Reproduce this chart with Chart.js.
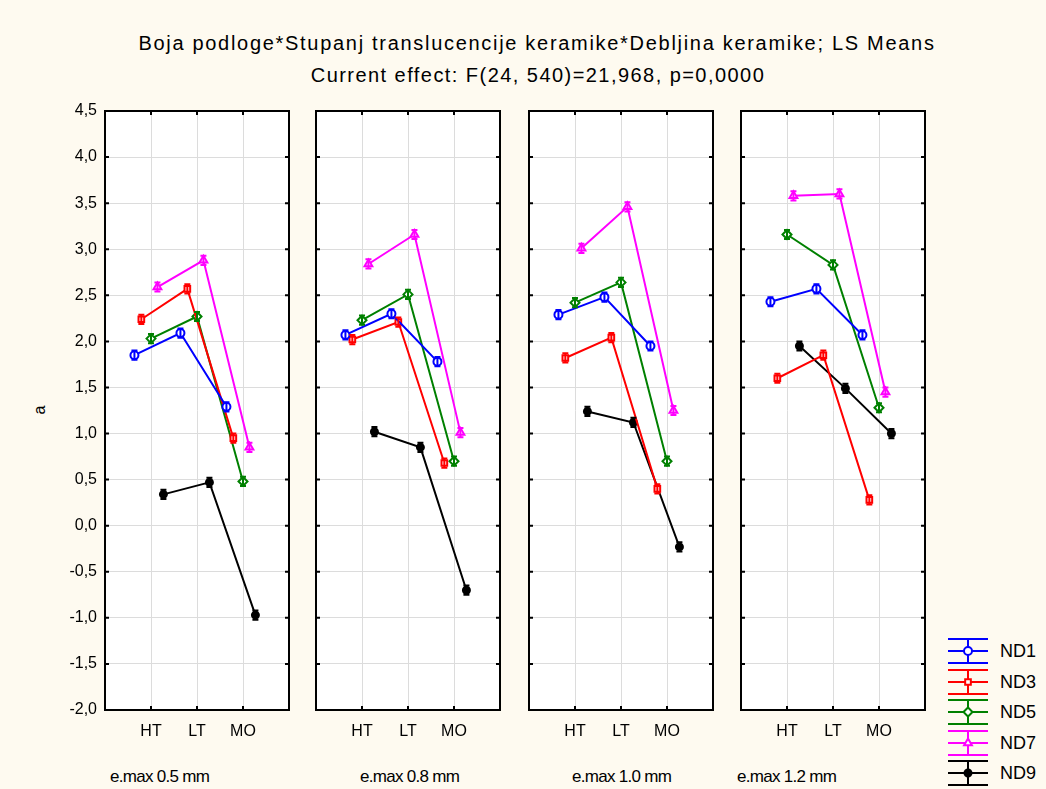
<!DOCTYPE html>
<html><head><meta charset="utf-8">
<script src="https://cdn.jsdelivr.net/npm/chart.js@4"></script>
<style>
html,body{margin:0;padding:0;background:#fefaf0;width:1046px;height:789px;overflow:hidden;font-family:"Liberation Sans",Arial,sans-serif;color:#000}
.abs{position:absolute;white-space:nowrap;line-height:20px}
canvas{position:absolute}
</style></head><body>
<div class="abs" id="title1" style="left:537px;top:33px;font-size:20px;letter-spacing:1.7px;transform:translateX(-50%)">Boja podloge*Stupanj translucencije keramike*Debljina keramike; LS Means</div>
<div class="abs" id="title2" style="left:538px;top:65px;font-size:20px;letter-spacing:1.45px;transform:translateX(-50%)">Current effect: F(24, 540)=21,968, p=0,0000</div>
<div class="abs" style="left:40px;top:410px;font-size:16px;transform:translate(-50%,-50%) rotate(-90deg)">a</div>
<div id="panelLabels"></div>
<div id="legend"></div>
<script>
// ---------- data ----------
const CATEGORIES = ['HT', 'LT', 'MO'];
const PANELS = ['e.max 0.5 mm', 'e.max 0.8 mm', 'e.max 1.0 mm', 'e.max 1.2 mm'];
const SERIES = ['ND1', 'ND3', 'ND5', 'ND7', 'ND9'];
// values per panel: [HT, LT, MO]
const ND1 = [[1.85, 2.09, 1.29], [2.07, 2.30, 1.78], [2.29, 2.48, 1.95], [2.43, 2.57, 2.07]];
const ND3 = [[2.24, 2.57, 0.95], [2.02, 2.21, 0.68], [1.82, 2.04, 0.40], [1.60, 1.85, 0.28]];
const ND5 = [[2.03, 2.27, 0.48], [2.23, 2.51, 0.70], [2.42, 2.64, 0.70], [3.16, 2.83, 1.28]];
const ND7 = [[2.59, 2.88, 0.85], [2.84, 3.16, 1.01], [3.01, 3.46, 1.25], [3.58, 3.60, 1.45]];
const ND9 = [[0.34, 0.47, -0.97], [1.02, 0.85, -0.70], [1.24, 1.12, -0.23], [1.95, 1.49, 1.00]];
// standard error (half-length of error bar) per series
const SE = [0.05, 0.05, 0.05, 0.05, 0.05];
const Y_TICKS = [4.5, 4.0, 3.5, 3.0, 2.5, 2.0, 1.5, 1.0, 0.5, 0.0, -0.5, -1.0, -1.5, -2.0];

// ---------- styles ----------
const VALUES = [ND1, ND3, ND5, ND7, ND9];
const COLORS = ['#0000ff', '#ff0000', '#008000', '#ff00ff', '#000000'];
const POINT_STYLES = ['circle', 'rect', 'rectRot', 'triangle', 'circle'];
const POINT_RADII = [4, 4, 4.5, 4.5, 3.5];
const POINT_FILL = ['#ffffff', '#ffffff', '#ffffff', '#ffffff', '#000000'];
const X_OFFSETS = [-0.36, -0.21, 0, 0.14, 0.27];
const FONT = '"Liberation Sans", Arial, sans-serif';
Chart.defaults.font.family = FONT;

const PANEL_LEFT = [105, 316, 529, 741];
const PANEL_W = 184;
const CANVAS_TOP = 100, PAD_TOP = 11, PLOT_H = 599, X_AXIS_H = 40;
const fmt = v => v.toFixed(1).replace('.', ',');

const framePlugin = {
  id: 'frame',
  beforeDraw(chart) {
    const ctx = chart.ctx, a = chart.chartArea;
    ctx.save();
    ctx.fillStyle = '#ffffff';
    ctx.fillRect(a.left, a.top, a.right - a.left, a.bottom - a.top);
    ctx.restore();
  },
  afterDatasetsDraw(chart) {
    const ctx = chart.ctx;
    const y = chart.scales.y;
    chart.data.datasets.forEach((ds, di) => {
      const meta = chart.getDatasetMeta(di);
      const e = ds.se;
      ctx.save();
      ctx.strokeStyle = ds.borderColor;
      ctx.lineWidth = 2;
      meta.data.forEach((pt, j) => {
        const v = ds.data[j].y;
        const y1 = y.getPixelForValue(v + e), y2 = y.getPixelForValue(v - e);
        ctx.beginPath();
        ctx.moveTo(pt.x, y1); ctx.lineTo(pt.x, y2);
        ctx.moveTo(pt.x - 3, y1); ctx.lineTo(pt.x + 3, y1);
        ctx.moveTo(pt.x - 3, y2); ctx.lineTo(pt.x + 3, y2);
        ctx.stroke();
      });
      ctx.restore();
    });
  },
  afterDraw(chart) {
    const ctx = chart.ctx, a = chart.chartArea;
    ctx.save();
    ctx.strokeStyle = '#000';
    ctx.lineWidth = 2;
    ctx.strokeRect(a.left, a.top, a.right - a.left, a.bottom - a.top);
    ctx.beginPath();
    chart.scales.y.ticks.forEach(t => {
      const p = chart.scales.y.getPixelForValue(t.value);
      ctx.moveTo(a.left, p); ctx.lineTo(a.left + 4, p);
      ctx.moveTo(a.right, p); ctx.lineTo(a.right - 4, p);
    });
    chart.scales.x.ticks.forEach(t => {
      const p = chart.scales.x.getPixelForValue(t.value);
      ctx.moveTo(p, a.top); ctx.lineTo(p, a.top + 4);
      ctx.moveTo(p, a.bottom); ctx.lineTo(p, a.bottom - 4);
    });
    ctx.stroke();
    ctx.restore();
  }
};

PANELS.forEach((label, pi) => {
  const yW = pi === 0 ? 105 : 2;
  const cv = document.createElement('canvas');
  const w = yW + PANEL_W + 3, h = PAD_TOP + PLOT_H + X_AXIS_H;
  cv.width = w; cv.height = h;
  cv.style.left = (PANEL_LEFT[pi] - yW) + 'px';
  cv.style.top = CANVAS_TOP + 'px';
  cv.style.width = w + 'px'; cv.style.height = h + 'px';
  document.body.appendChild(cv);

  const datasets = SERIES.map((name, si) => ({
    label: name,
    data: CATEGORIES.map((c, ci) => ({ x: ci + 1 + X_OFFSETS[si], y: VALUES[si][pi][ci] })),
    se: SE[si],
    borderColor: COLORS[si],
    backgroundColor: POINT_FILL[si],
    borderWidth: 2,
    pointStyle: POINT_STYLES[si],
    pointRadius: POINT_RADII[si],
    pointBorderWidth: 2,
    pointBorderColor: COLORS[si],
    pointBackgroundColor: POINT_FILL[si],
    tension: 0,
    fill: false
  }));

  new Chart(cv, {
    type: 'line',
    data: { datasets },
    plugins: [framePlugin],
    options: {
      responsive: false,
      animation: false,
      devicePixelRatio: 1,
      layout: { autoPadding: false, padding: { top: PAD_TOP, right: 3, left: 0, bottom: 0 } },
      plugins: { legend: { display: false }, tooltip: { enabled: false }, title: { display: false } },
      scales: {
        x: {
          type: 'linear', min: 0, max: 4,
          afterBuildTicks: s => { s.ticks = CATEGORIES.map((c, i) => ({ value: i + 1 })); },
          afterFit: s => { s.height = X_AXIS_H; s.paddingLeft = 0; s.paddingRight = 0; },
          ticks: { callback: v => CATEGORIES[v - 1], font: { size: 16, family: FONT }, color: '#000', padding: 12, maxRotation: 0, autoSkip: false },
          grid: { color: '#dcdcdc', lineWidth: 1, drawTicks: false },
          border: { display: false }
        },
        y: {
          min: -2, max: 4.5,
          afterBuildTicks: s => { s.ticks = Y_TICKS.map(v => ({ value: v })); },
          afterFit: s => { s.width = yW; s.paddingTop = 0; s.paddingBottom = 0; },
          ticks: { display: pi === 0, callback: v => fmt(v), font: { size: 16, family: FONT }, color: '#000', padding: 8 },
          grid: { color: '#dcdcdc', lineWidth: 1, drawTicks: false },
          border: { display: false }
        }
      }
    }
  });
});

// panel labels
const LABEL_X = [110, 360, 572, 737];
const pl = document.getElementById('panelLabels');
PANELS.forEach((t, i) => {
  const d = document.createElement('div');
  d.className = 'abs';
  d.style.cssText = `left:${LABEL_X[i]}px;top:767px;font-size:17px;letter-spacing:-0.7px`;
  d.textContent = t;
  pl.appendChild(d);
});

// legend
const LEG_Y = [651, 682, 712, 743, 773];
const lg = document.getElementById('legend');
const lc = document.createElement('canvas');
lc.width = 60; lc.height = 170;
lc.style.left = '940px'; lc.style.top = '625px';
lg.appendChild(lc);
const lctx = lc.getContext('2d');
SERIES.forEach((name, i) => {
  const m = LEG_Y[i] - 625;
  lctx.strokeStyle = COLORS[i];
  lctx.lineWidth = 2;
  lctx.beginPath();
  lctx.moveTo(8, m - 12); lctx.lineTo(48, m - 12);
  lctx.moveTo(8, m); lctx.lineTo(48, m);
  lctx.moveTo(8, m + 12); lctx.lineTo(48, m + 12);
  lctx.moveTo(28, m - 12); lctx.lineTo(28, m + 12);
  lctx.stroke();
  lctx.fillStyle = POINT_FILL[i];
  Chart.helpers.drawPoint(lctx, { pointStyle: POINT_STYLES[i], radius: POINT_RADII[i], rotation: 0, borderWidth: 2 }, 28, m);
  const d = document.createElement('div');
  d.className = 'abs';
  d.style.cssText = `left:1000px;top:${LEG_Y[i] - 10}px;font-size:18px`;
  d.textContent = name;
  lg.appendChild(d);
});
</script>
</body></html>
